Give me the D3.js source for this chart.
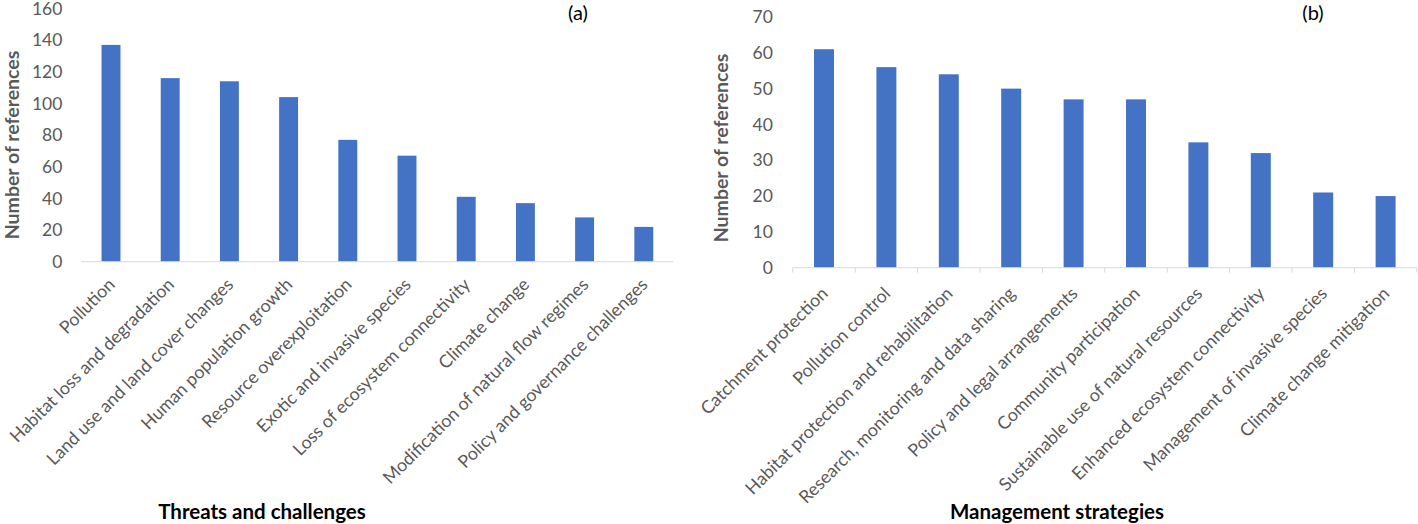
<!DOCTYPE html>
<html>
<head>
<meta charset="utf-8">
<script src="https://cdn.jsdelivr.net/npm/d3@7"></script>
<style>
  html, body { margin: 0; padding: 0; background: #fff; }
  svg { display: block; }
  text { font-family: Lato, "Open Sans", sans-serif; }
</style>
</head>
<body>
<svg id="chart" width="1418" height="524"></svg>
<script>

//Panel (a) data
var threats = [
    "Pollution",
    "Habitat loss and degradation",
    "Land use and land cover changes",
    "Human population growth",
    "Resource overexploitation",
    "Exotic and invasive species",
    "Loss of ecosystem connectivity",
    "Climate change",
    "Modification of natural flow regimes",
    "Policy and governance challenges"
];
var threatCounts = [137, 116, 114, 104, 77, 67, 41, 37, 28, 22];
var threatTicks = [0, 20, 40, 60, 80, 100, 120, 140, 160];

//Panel (b) data
var strategies = [
    "Catchment protection",
    "Pollution control",
    "Habitat protection and rehabilitation",
    "Research, monitoring and data sharing",
    "Policy and legal arrangements",
    "Community participation",
    "Sustainable use of natural resources",
    "Enhanced ecosystem connectivity",
    "Management of invasive species",
    "Climate change mitigation"
];
var strategyCounts = [61, 56, 54, 50, 47, 47, 35, 32, 21, 20];
var strategyTicks = [0, 10, 20, 30, 40, 50, 60, 70];


var svg = d3.select("#chart");
var barColor = "#4472C4";
var axisColor = "#D9D9D9";
var labelColor = "#595959";


//**************************************************************************
//** drawPanel
//**************************************************************************
var drawPanel = function(config){

    var g = svg.append("g");

    var x = d3.scaleBand()
        .domain(config.categories)
        .range(config.xRange)
        .paddingInner(0.68)
        .paddingOuter(0.34);

    var y = d3.scaleLinear()
        .domain([0, d3.max(config.ticks)])
        .range(config.yRange);

    var base = y(0);
    var gap = (x.step() - x.bandwidth()) / 2;

  //Y axis (labels only)
    var yAxis = g.append("g")
        .attr("transform", "translate(" + config.xRange[0] + ",0)")
        .call(d3.axisLeft(y).tickValues(config.ticks).tickSize(0).tickPadding(config.tickPadding));
    yAxis.select(".domain").remove();
    yAxis.selectAll("text")
        .attr("fill", labelColor)
        .style("font-size", "17.5px");

  //Bars
    g.selectAll(".bar")
        .data(config.values)
        .enter()
        .append("rect")
        .attr("class", "bar")
        .attr("x", function(d, i){ return x(config.categories[i]); })
        .attr("y", function(d){ return y(d); })
        .attr("width", x.bandwidth())
        .attr("height", function(d){ return base - y(d); })
        .attr("fill", barColor);

  //Baseline
    g.append("line")
        .attr("x1", config.xRange[0])
        .attr("x2", config.xRange[1])
        .attr("y1", base)
        .attr("y2", base)
        .attr("stroke", axisColor)
        .attr("stroke-width", 1);

  //Tick marks between categories
    if (config.showTicks){
        var bounds = config.categories.map(function(c){ return x(c) - gap; });
        bounds.push(x(config.categories[config.categories.length-1]) + x.bandwidth() + gap);
        g.selectAll(".tick-mark")
            .data(bounds)
            .enter()
            .append("line")
            .attr("x1", function(d){ return d; })
            .attr("x2", function(d){ return d; })
            .attr("y1", base)
            .attr("y2", base + 5)
            .attr("stroke", axisColor);
    }

  //Rotated category labels
    g.selectAll(".cat")
        .data(config.categories)
        .enter()
        .append("text")
        .attr("class", "cat")
        .attr("transform", function(d){
            var cx = x(d) + x.bandwidth()/2 + config.labelDx;
            return "translate(" + cx + "," + (base + config.labelDy) + ") rotate(-45)";
        })
        .attr("text-anchor", "end")
        .attr("fill", labelColor)
        .style("font-size", "17.8px")
        .text(function(d){ return d; });

  //Y axis title
    g.append("text")
        .attr("transform", "translate(" + config.yTitleX + "," + config.yTitleY + ") rotate(-90)")
        .attr("text-anchor", "middle")
        .attr("fill", labelColor)
        .style("font-size", "19.5px")
        .style("font-weight", "bold")
        .text("Number of references");

  //X axis title
    g.append("text")
        .attr("x", config.xTitleX)
        .attr("y", 519)
        .attr("text-anchor", "middle")
        .attr("fill", "#000")
        .style("font-size", "20.5px")
        .style("font-weight", "bold")
        .text(config.xTitle);

  //Panel letter
    g.append("text")
        .attr("x", config.letterX)
        .attr("y", 20)
        .attr("text-anchor", "middle")
        .attr("fill", "#000")
        .style("font-size", "20px")
        .text(config.letter);
};


drawPanel({
    categories: threats,
    values: threatCounts,
    ticks: threatTicks,
    xRange: [81.4, 673.4],
    yRange: [261.7, 8.5],
    tickPadding: 19,
    showTicks: false,
    labelDx: 5,
    labelDy: 24,
    yTitleX: 19,
    yTitleY: 145,
    xTitle: "Threats and challenges",
    xTitleX: 262,
    letter: "(a)",
    letterX: 578
});

drawPanel({
    categories: strategies,
    values: strategyCounts,
    ticks: strategyTicks,
    xRange: [792.8, 1416.8],
    yRange: [267.7, 17],
    tickPadding: 20,
    showTicks: true,
    labelDx: 5,
    labelDy: 27,
    yTitleX: 728,
    yTitleY: 148,
    xTitle: "Management strategies",
    xTitleX: 1057,
    letter: "(b)",
    letterX: 1313
});

</script>
</body>
</html>
